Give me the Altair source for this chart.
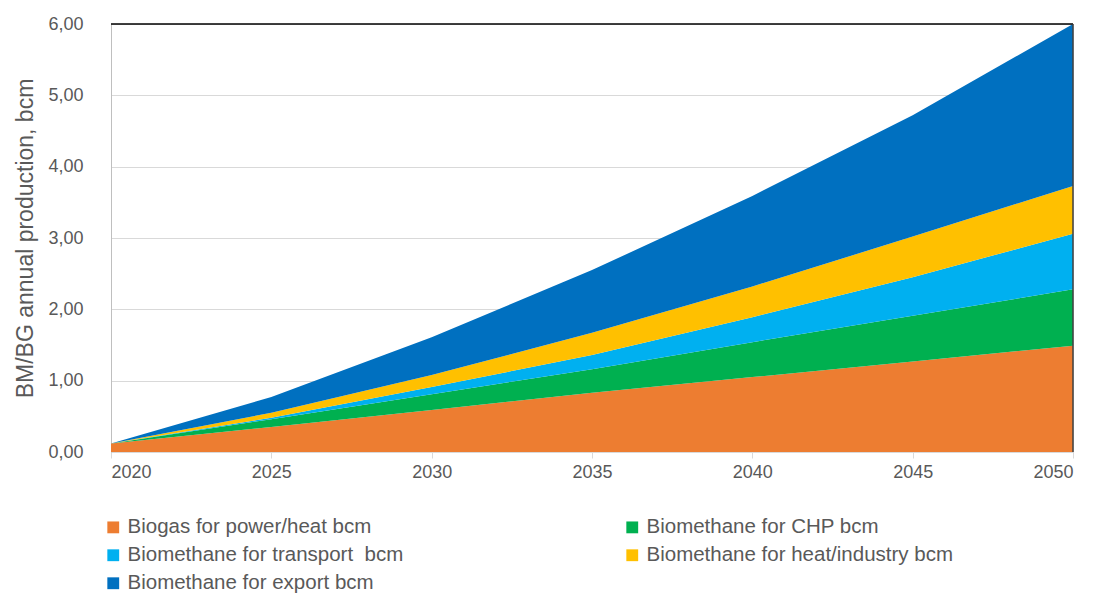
import altair as alt
import pandas as pd

years = [2020, 2025, 2030, 2035, 2040, 2045, 2050]
series = [
    "Biogas for power/heat bcm",
    "Biomethane for CHP bcm",
    "Biomethane for transport\u00a0 bcm",
    "Biomethane for heat/industry bcm",
    "Biomethane for export bcm",
]
biogas_power_heat = [0.12, 0.35, 0.59, 0.83, 1.05, 1.27, 1.49]
biomethane_chp = [0.00, 0.11, 0.22, 0.33, 0.49, 0.64, 0.79]
biomethane_transport = [0.00, 0.02, 0.10, 0.20, 0.35, 0.54, 0.78]
biomethane_heat_industry = [0.00, 0.07, 0.17, 0.31, 0.43, 0.57, 0.67]
biomethane_export = [0.00, 0.22, 0.53, 0.88, 1.27, 1.70, 2.27]
colors = ["#ED7D31", "#00B050", "#00B0F0", "#FFC000", "#0070C0"]

values = [biogas_power_heat, biomethane_chp, biomethane_transport,
          biomethane_heat_industry, biomethane_export]
rows = []
for i, (name, vals) in enumerate(zip(series, values)):
    for y, v in zip(years, vals):
        rows.append({"year": y, "series": name, "value": v, "order": i})
df = pd.DataFrame(rows)

# legend fills column by column; reorder so it reads row by row like the reference
legend_order = [0, 2, 4, 1, 3]
leg_domain = [series[i] for i in legend_order]
leg_range = [colors[i] for i in legend_order]

font = "Liberation Sans"
grey = "#595959"

area = alt.Chart(df).mark_area(opacity=1).encode(
    x=alt.X("year:Q", scale=alt.Scale(domain=[2020, 2050], nice=False, zero=False),
            axis=alt.Axis(values=years, format="d", title=None, grid=False,
                          labelFontSize=18, labelColor=grey, labelFont=font,
                          tickColor="#d9d9d9", tickSize=6, domainColor="#d9d9d9",
                          labelPadding=5)),
    y=alt.Y("value:Q", stack="zero", scale=alt.Scale(domain=[0, 6], nice=False),
            axis=alt.Axis(values=[0, 1, 2, 3, 4, 5, 6],
                          labelExpr="replace(format(datum.value, '.2f'), '.', ',')",
                          title="BM/BG annual production, bcm",
                          titleFontSize=23, titleFont=font, titleColor=grey,
                          titleFontWeight="normal", titlePadding=10,
                          labelFontSize=18, labelColor=grey, labelFont=font,
                          gridColor="#d9d9d9", ticks=False, domainColor="#bfbfbf",
                          labelPadding=28)),
    color=alt.Color("series:N", scale=alt.Scale(domain=leg_domain, range=leg_range),
                    legend=alt.Legend(orient="none", legendX=-8, legendY=493,
                                      columns=2, columnPadding=218, rowPadding=7,
                                      title=None, symbolType="square", symbolSize=140,
                                      labelFontSize=20.5, labelFont=font,
                                      labelColor=grey, labelLimit=500,
                                      symbolStrokeWidth=0, labelOffset=4)),
    order=alt.Order("order:Q", sort="ascending"),
)

top = alt.Chart(pd.DataFrame({"y": [6]})).mark_rule(color="#000000", strokeWidth=1.5).encode(
    y="y:Q")
right = alt.Chart(pd.DataFrame({"x": [2050]})).mark_rule(color="#404040", strokeWidth=1.5).encode(
    x="x:Q")

chart = alt.layer(area, top, right).properties(
    width=962, height=428,
    autosize=alt.AutoSizeParams(type="none"),
    padding={"left": 103, "top": 16, "right": 19, "bottom": 143},
).configure_view(stroke=None).configure(background="white")

chart.save("out.html", embed_options={"renderer": "svg", "actions": False})
